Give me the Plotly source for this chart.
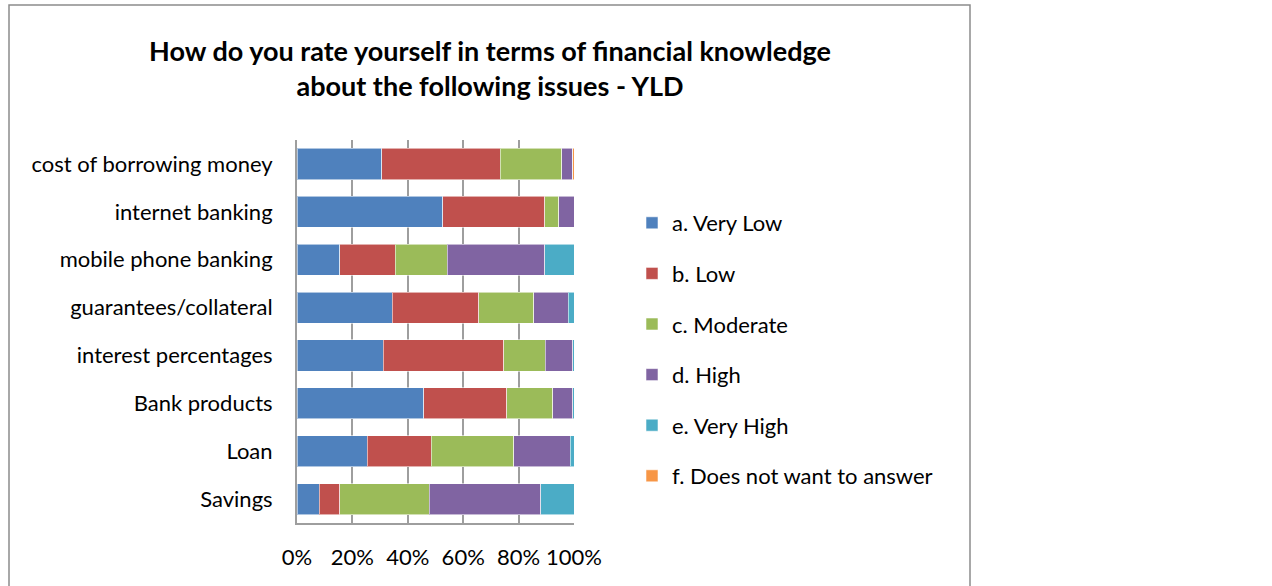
import plotly.graph_objects as go

# Survey topics, listed top to bottom
topics = [
    "cost of borrowing money",
    "internet banking",
    "mobile phone banking",
    "guarantees/collateral",
    "interest percentages",
    "Bank products",
    "Loan",
    "Savings",
]

# Share of respondents per rating (%)
very_low = [30.6, 52.7, 15.4, 34.4, 31.2, 45.8, 25.4, 8.1]
low = [42.7, 36.8, 20.0, 31.3, 43.5, 30.0, 23.1, 7.4]
moderate = [22.2, 5.0, 18.9, 19.7, 14.9, 16.5, 29.7, 32.2]
high = [4.0, 5.5, 35.2, 12.6, 9.9, 7.3, 20.5, 40.3]
very_high = [0.0, 0.0, 10.5, 2.0, 0.5, 0.4, 1.3, 12.0]
no_answer = [0.5, 0.0, 0.0, 0.0, 0.0, 0.0, 0.0, 0.0]

series_names = [
    "a. Very Low",
    "b. Low",
    "c. Moderate",
    "d. High",
    "e. Very High",
    "f. Does not want to answer",
]
series_values = [very_low, low, moderate, high, very_high, no_answer]
series_colors = ["#4F81BD", "#C0504D", "#9BBB59", "#8064A2", "#4BACC6", "#F79646"]

x_ticks = [0, 20, 40, 60, 80, 100]
x_tick_labels = ["0%", "20%", "40%", "60%", "80%", "100%"]

FONT = "Lato"

fig = go.Figure()
for name, vals, col in zip(series_names, series_values, series_colors):
    fig.add_trace(go.Bar(
        y=topics,
        x=vals,
        name=name,
        orientation="h",
        legendgroup=name,
        marker=dict(color=col, line=dict(color="rgba(255,255,255,0.55)", width=1)),
    ))

# Layout geometry (pixels)
W, H = 1272, 586
L, R, T, B = 297, 698, 140, 63
pw, ph = W - L - R, H - T - B


def px_x(p):
    return (p - L) / pw


def px_y(p):
    return (H - B - p) / ph


fig.update_layout(
    width=W,
    height=H,
    barmode="stack",
    bargap=0.35,
    margin=dict(l=L, r=R, t=T, b=B),
    paper_bgcolor="white",
    plot_bgcolor="white",
    font=dict(family=FONT, size=22, color="#000000"),
    title=dict(
        text="<b>How do you rate yourself in terms of financial knowledge<br>about the following issues - YLD</b>",
        x=px_x(490),
        xref="paper",
        xanchor="center",
        y=1 - 61 / H,
        yanchor="middle",
        font=dict(family=FONT, size=27, color="#000000"),
    ),
    xaxis=dict(
        range=[0, 100],
        tickvals=x_ticks,
        ticktext=x_tick_labels,
        showgrid=True,
        gridcolor="#9e9e9e",
        gridwidth=2,
        zeroline=False,
        showline=True,
        linecolor="#9e9e9e",
        linewidth=2,
        ticks="",
        ticklabelstandoff=14,
        tickfont=dict(family=FONT, size=22),
    ),
    yaxis=dict(
        categoryorder="array",
        categoryarray=topics,
        autorange="reversed",
        showgrid=False,
        showline=True,
        linecolor="#9e9e9e",
        linewidth=2,
        ticks="",
        ticklabelstandoff=18,
        tickfont=dict(family=FONT, size=22),
    ),
    legend=dict(
        x=px_x(632),
        y=px_y(202),
        xanchor="left",
        yanchor="top",
        traceorder="grouped",
        tracegroupgap=19,
        font=dict(family=FONT, size=22),
        itemwidth=30,
    ),
    shapes=[
        dict(
            type="rect",
            xref="paper",
            yref="paper",
            x0=px_x(9),
            x1=px_x(970),
            y0=px_y(592),
            y1=px_y(5),
            line=dict(color="#8c8c8c", width=1.5),
            fillcolor="rgba(0,0,0,0)",
            layer="below",
        )
    ],
)

fig.write_html("out.html")
